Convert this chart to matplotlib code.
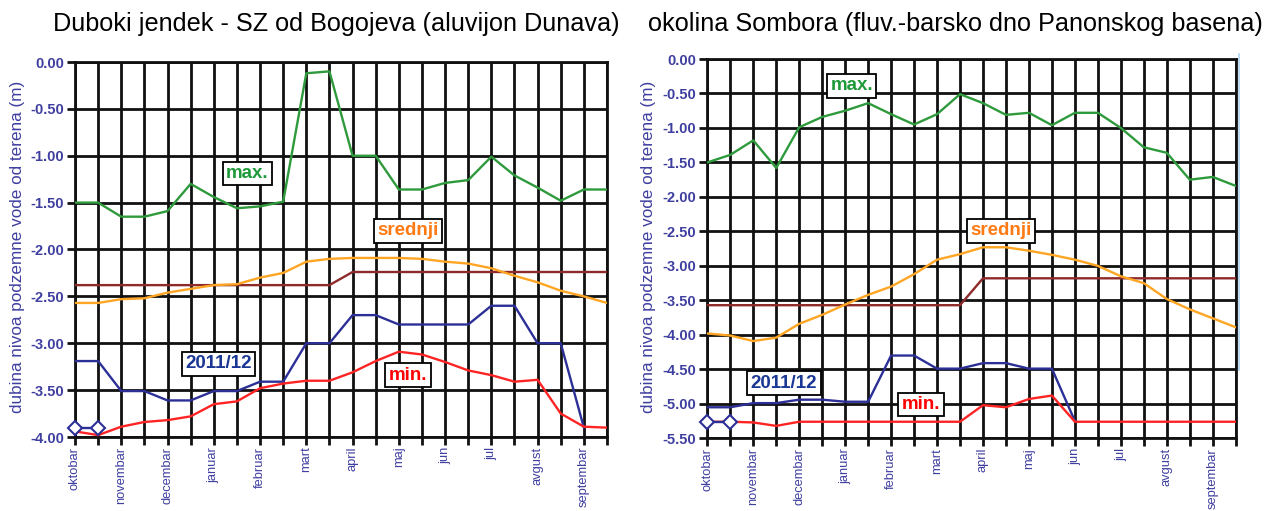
import matplotlib
matplotlib.use("Agg")
import matplotlib.pyplot as plt
from matplotlib.lines import Line2D

plt.rcParams['font.family'] = ['Liberation Sans', 'DejaVu Sans']

months = ["oktobar", "novembar", "decembar", "januar", "februar", "mart",
          "april", "maj", "jun", "jul", "avgust", "septembar"]

# ---- Left chart: Duboki jendek - SZ od Bogojeva ----
L_title = "Duboki jendek - SZ od Bogojeva (aluvijon Dunava)"
L_max = [-1.50, -1.50, -1.65, -1.65, -1.59, -1.30, -1.44, -1.56, -1.54, -1.49, -0.12, -0.10,
         -1.00, -1.00, -1.36, -1.36, -1.29, -1.26, -1.01, -1.21, -1.34, -1.48, -1.36, -1.36]
L_mean = [-2.57, -2.57, -2.53, -2.52, -2.46, -2.42, -2.38, -2.37, -2.30, -2.25, -2.13, -2.10,
          -2.09, -2.09, -2.09, -2.10, -2.13, -2.15, -2.20, -2.28, -2.35, -2.44, -2.50, -2.57]
L_ref = [-2.38] * 12 + [-2.24] * 12
L_2011 = [-3.19, -3.19, -3.51, -3.51, -3.61, -3.61, -3.51, -3.51, -3.41, -3.41, -3.00, -3.00,
          -2.70, -2.70, -2.80, -2.80, -2.80, -2.80, -2.60, -2.60, -3.00, -3.00, -3.90]
L_min = [-3.94, -3.98, -3.89, -3.84, -3.82, -3.78, -3.65, -3.62, -3.48, -3.43, -3.40, -3.40,
         -3.31, -3.19, -3.09, -3.12, -3.20, -3.29, -3.34, -3.41, -3.39, -3.75, -3.89, -3.90]
L_diam = [-3.90, -3.90]

# ---- Right chart: okolina Sombora ----
R_title = "okolina Sombora (fluv.-barsko dno Panonskog basena)"
R_max = [-1.50, -1.39, -1.18, -1.58, -0.99, -0.84, -0.75, -0.64, -0.80, -0.95, -0.80, -0.51,
         -0.64, -0.81, -0.78, -0.96, -0.78, -0.78, -1.00, -1.28, -1.36, -1.75, -1.71, -1.84]
R_mean = [-3.98, -4.01, -4.09, -4.04, -3.84, -3.71, -3.56, -3.42, -3.30, -3.12, -2.91, -2.83,
          -2.73, -2.73, -2.78, -2.84, -2.91, -3.00, -3.15, -3.25, -3.48, -3.63, -3.76, -3.89]
R_ref = [-3.57] * 12 + [-3.18] * 12
R_2011 = [-5.05, -5.05, -4.99, -4.99, -4.94, -4.94, -4.97, -4.97, -4.30, -4.30, -4.49, -4.49,
          -4.41, -4.41, -4.49, -4.49, -5.25]
R_min = [-5.26, -5.26, -5.27, -5.32, -5.26, -5.26, -5.26, -5.26, -5.26, -5.26, -5.26, -5.26,
         -5.02, -5.05, -4.93, -4.88, -5.26, -5.26, -5.26, -5.26, -5.26, -5.26, -5.26, -5.26]
R_diam = [-5.26, -5.26]

ylabel = "dubina nivoa podzemne vode od terena (m)"

C_MAX = '#2e9a3c'
C_MEAN = '#ffa524'
C_REF = '#8e2a2a'
C_2011 = '#2b2f96'
C_MIN = '#ff2424'
C_TICK = '#3f3fa0'

W, H = 1273, 511
fig = plt.figure(figsize=(W / 100, H / 100), dpi=100)


def px_axes(x0, x1, ytop, ybot):
    return fig.add_axes([x0 / W, (H - ybot) / H, (x1 - x0) / W, (ybot - ytop) / H])


def draw(ax, title_x, title, mx, mean, ref, cur, mn, diam, ymin, labels, ylab_x):
    n = len(mx)
    xs = list(range(n))
    ax.set_xlim(0, n - 1)
    ax.set_ylim(ymin, 0)
    yt = [ymin + 0.5 * i for i in range(int(round(-ymin / 0.5)) + 1)]
    ax.set_yticks(yt)
    ax.set_yticklabels([f"{v:.2f}" for v in yt], color=C_TICK, fontsize=10.5, fontweight='bold')
    ax.set_xticks(xs)
    ax.set_xticklabels([months[i // 2] if i % 2 == 0 else '' for i in xs],
                       rotation=90, color=C_TICK, fontsize=9.3, va='top', ha='center')
    ax.tick_params(axis='both', length=6, width=2.0, color='#111111', direction='out', pad=2)
    ax.tick_params(axis='x', pad=1)
    ax.grid(True, color='#111111', lw=2.0)
    ax.set_axisbelow(True)
    for s in ax.spines.values():
        s.set_color('#111111')
        s.set_linewidth(2.0)
    ax.plot(xs, ref, color=C_REF, lw=1.7, zorder=3)
    ax.plot(xs, mean, color=C_MEAN, lw=1.7, zorder=3)
    ax.plot(xs, mx, color=C_MAX, lw=1.7, zorder=3)
    ax.plot(xs[:len(cur)], cur, color=C_2011, lw=1.7, zorder=3)
    ax.plot(xs, mn, color=C_MIN, lw=1.7, zorder=4)
    ax.plot(xs[:len(diam)], diam, color=C_2011, lw=1.7, marker='D', ms=7,
            mfc='white', mec=C_2011, mew=1.5, zorder=5, clip_on=False)
    box = dict(boxstyle='square,pad=0.18', fc='white', ec='black', lw=1.3)
    for (tx, ty, txt, col) in labels:
        ax.text(tx, ty, txt, color=col, fontsize=13.5, fontweight='bold',
                ha='center', va='center', bbox=box, zorder=6)
    fig.text(title_x / W, 1 - 24 / H, title, fontsize=18.2, ha='center', va='center',
             color='black')
    fig.text(ylab_x / W, 0.5 + (H / 2 - 247) / H, ylabel, rotation=90, fontsize=12.3,
             color=C_TICK, ha='center', va='center')


axL = px_axes(75, 607, 62, 437)
draw(axL, 336, L_title, L_max, L_mean, L_ref, L_2011, L_min, L_diam, -4.0,
     [(7.45, -1.19, "max.", '#1f9a3a'),
      (6.2, -3.22, "2011/12", '#1b3795'),
      (14.4, -1.80, "srednji", '#ff7a12'),
      (14.4, -3.34, "min.", '#ff0000')], 18)

axR = px_axes(707.3, 1235.7, 59, 438.3)
draw(axR, 955, R_title, R_max, R_mean, R_ref, R_2011, R_min, R_diam, -5.5,
     [(6.28, -0.39, "max.", '#1f9a3a'),
      (3.34, -4.70, "2011/12", '#1b3795'),
      (12.77, -2.49, "srednji", '#ff7a12'),
      (9.3, -5.01, "min.", '#ff0000')], 648)

fig.add_artist(Line2D([1238.5 / W, 1238.5 / W], [(H - 54) / H, (H - 370) / H],
                      color='#b0d4f0', lw=1.2, transform=fig.transFigure))

fig.savefig("out.png", dpi=100)
